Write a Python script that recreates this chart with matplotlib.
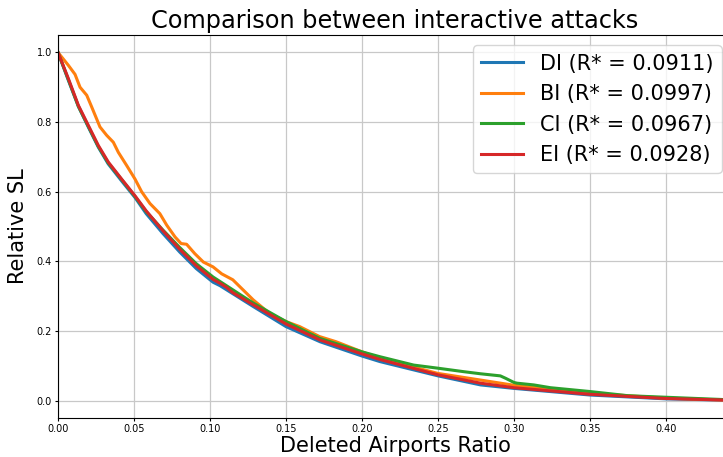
import numpy as np
import matplotlib
matplotlib.use("Agg")
import matplotlib.pyplot as plt

# curves (x = deleted ratio, y = relative SL)
di_x = [0, 0.0068, 0.0134, 0.020, 0.0265, 0.033, 0.042, 0.0507, 0.058, 0.069, 0.080, 0.091,
        0.102, 0.1066, 0.1285, 0.15, 0.1724, 0.20, 0.2118, 0.25, 0.278, 0.30, 0.35, 0.40, 0.4434]
di_y = [1.0, 0.920, 0.845, 0.785, 0.728, 0.680, 0.630, 0.583, 0.537, 0.480, 0.427, 0.379,
        0.340, 0.330, 0.270, 0.2125, 0.169, 0.128, 0.112, 0.071, 0.045, 0.035, 0.016, 0.005, 0.001]

bi_x = [0, 0.0068, 0.0112, 0.0145, 0.0189, 0.0222, 0.0276, 0.032, 0.0364, 0.0397, 0.0452, 0.0507,
        0.055, 0.0605, 0.067, 0.0715, 0.077, 0.081, 0.0846, 0.090, 0.0956, 0.102, 0.1077, 0.115,
        0.1285, 0.139, 0.15, 0.159, 0.172, 0.183, 0.20, 0.212, 0.25, 0.30, 0.35, 0.40, 0.4434]
bi_y = [1.0, 0.963, 0.937, 0.900, 0.877, 0.843, 0.786, 0.762, 0.742, 0.713, 0.675, 0.636,
        0.600, 0.566, 0.537, 0.504, 0.470, 0.451, 0.449, 0.422, 0.398, 0.384, 0.364, 0.347,
        0.289, 0.251, 0.227, 0.2125, 0.184, 0.169, 0.140, 0.121, 0.078, 0.044, 0.021, 0.007, 0.001]

ci_x = [0, 0.0068, 0.0134, 0.020, 0.0265, 0.033, 0.042, 0.0507, 0.058, 0.069, 0.080, 0.091,
        0.102, 0.1066, 0.12, 0.1285, 0.15, 0.172, 0.20, 0.2118, 0.234, 0.25, 0.267, 0.278,
        0.291, 0.2945, 0.30, 0.302, 0.313, 0.324, 0.35, 0.375, 0.40, 0.4434]
ci_y = [1.0, 0.922, 0.845, 0.787, 0.730, 0.683, 0.634, 0.586, 0.543, 0.490, 0.440, 0.393,
        0.355, 0.342, 0.304, 0.280, 0.227, 0.179, 0.140, 0.126, 0.102, 0.093, 0.083, 0.077,
        0.071, 0.064, 0.052, 0.050, 0.045, 0.037, 0.026, 0.014, 0.0096, 0.002]

ei_x = [0, 0.0068, 0.0134, 0.020, 0.0265, 0.0331, 0.0419, 0.0507, 0.058, 0.069, 0.080, 0.091,
        0.102, 0.1066, 0.111, 0.115, 0.1285, 0.15, 0.1724, 0.20, 0.2118, 0.25, 0.278, 0.30,
        0.35, 0.40, 0.4434]
ei_y = [1.0, 0.925, 0.848, 0.790, 0.733, 0.685, 0.636, 0.588, 0.545, 0.488, 0.435, 0.387,
        0.348, 0.337, 0.325, 0.310, 0.275, 0.220, 0.174, 0.134, 0.118, 0.074, 0.050, 0.037,
        0.018, 0.006, 0.001]

labels = ["DI (R* = 0.0911)", "BI (R* = 0.0997)", "CI (R* = 0.0967)", "EI (R* = 0.0928)"]
colors = ["#1f77b4", "#ff7f0e", "#2ca02c", "#d62728"]

fig = plt.figure(figsize=(7.23, 4.57), dpi=100)
ax = fig.add_axes([58 / 723, 39 / 457, (732 - 58) / 723, 383 / 457])

for xs, ys, lab, c in zip([di_x, bi_x, ci_x, ei_x], [di_y, bi_y, ci_y, ei_y], labels, colors):
    ax.plot(xs, ys, color=c, lw=2.2, label=lab)

ax.set_xlim(0, 0.4434)
ax.set_ylim(-0.05, 1.05)
ax.set_xticks(np.arange(0, 0.41, 0.05))
ax.set_yticks(np.arange(0, 1.01, 0.2))
ax.tick_params(labelsize=7, length=2.5, pad=2)
ax.grid(True, color="#c8c8c8", lw=0.9)
ax.set_title("Comparison between interactive attacks", fontsize=17.3, pad=5)
ax.set_xlabel("Deleted Airports Ratio", fontsize=15, labelpad=1)
ax.set_ylabel("Relative SL", fontsize=15, labelpad=6)
ax.legend(loc="upper right", fontsize=15)

fig.savefig("out.png", dpi=100)
